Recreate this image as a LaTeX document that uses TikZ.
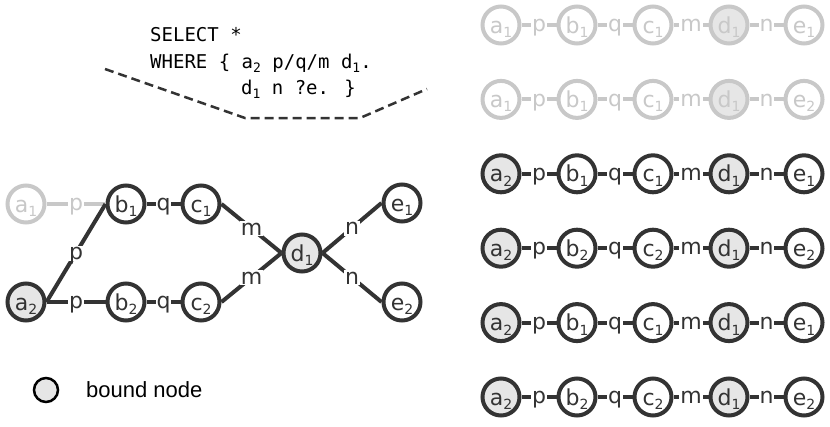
\documentclass[tikz,border=0pt]{standalone}
\usepackage{fontspec}
\setmainfont{DejaVu Sans}
\newfontfamily\codefont{DejaVu Sans Mono}
\newfontfamily\legendfont{Liberation Sans}
\definecolor{dk}{HTML}{333333}
\definecolor{lt}{HTML}{C8C8C8}
\definecolor{bfill}{HTML}{E6E6E6}
\newcommand\lsub[1]{\raisebox{-4.5pt}{\fontsize{14}{14}\selectfont #1}}
\newcommand\csub[1]{\raisebox{-4pt}{\fontsize{13}{13}\selectfont #1}}
\tikzset{
  nd-n/.style={circle, draw=dk, line width=4pt, minimum size=37pt, inner sep=0pt,
    fill=white, text=dk, font=\fontsize{22}{22}\selectfont, text height=16pt, text depth=0pt},
  nd-f/.style={nd-n, draw=lt, text=lt},
  bnd-n/.style={nd-n, fill=bfill},
  bnd-f/.style={nd-f, fill=bfill},
  ed-n/.style={draw=dk, line width=4pt},
  ed-f/.style={draw=lt, line width=4pt},
  lb-n/.style={fill=white, inner sep=0.8pt, text=dk, font=\fontsize{22}{22}\selectfont,
    text height=13.4pt, text depth=0pt},
  lb-f/.style={lb-n, text=lt},
  codeline/.style={anchor=base west, inner sep=0pt, text=black,
    font=\fontsize{19}{19}\selectfont\codefont},
  dashline/.style={draw=dk, line width=2.5pt, dash pattern=on 9pt off 5pt},
}
\begin{document}
\begin{tikzpicture}[x=1pt, y=-1pt]
\useasboundingbox (0,0) rectangle (830,426);

% query text
\node[codeline] (code1) at (150,41.7) {SELECT *};
\node[codeline] (code2) at (150,68.3) {WHERE \{ a\csub{2} p/q/m d\csub{1}.};
\node[codeline] (code3) at (241,94.8) {d\csub{1} n ?e. \}};
\coordinate (k1) at (105,69);
\coordinate (k2) at (245,118);
\coordinate (k3) at (360,118);
\coordinate (k4) at (427,89);
\draw[dashline] (k1) -- (k2) -- (k3) -- (k4);

% left graph
\node[nd-f]  (a1) at (26,204)  {a\lsub{1}};
\node[nd-n]  (b1) at (126,204) {b\lsub{1}};
\node[nd-n]  (c1) at (201,204) {c\lsub{1}};
\node[bnd-n] (d1) at (302,253) {d\lsub{1}};
\node[nd-n]  (e1) at (402,203) {e\lsub{1}};
\node[bnd-n] (a2) at (26,302)  {a\lsub{2}};
\node[nd-n]  (b2) at (126,302) {b\lsub{2}};
\node[nd-n]  (c2) at (201,302) {c\lsub{2}};
\node[nd-n]  (e2) at (402,302) {e\lsub{2}};

\draw[ed-f] (a1.east) -- node[lb-f] {p} (b1.west);
\draw[ed-n] (a2.east) -- node[lb-n] {p} (b1.west);
\draw[ed-n] (a2.east) -- node[lb-n] {p} (b2.west);
\draw[ed-n] (b1.east) -- node[lb-n] {q} (c1.west);
\draw[ed-n] (b2.east) -- node[lb-n] {q} (c2.west);
\draw[ed-n] (c1.east) -- node[lb-n] {m} (d1.west);
\draw[ed-n] (c2.east) -- node[lb-n] {m} (d1.west);
\draw[ed-n] (d1.east) -- node[lb-n] {n} (e1.west);
\draw[ed-n] (d1.east) -- node[lb-n] {n} (e2.west);

% legend
\node[circle, draw=black, line width=2.5pt, fill=bfill, minimum size=24pt, inner sep=0pt] (leg) at (46,390) {};
\node[anchor=base west, inner sep=0pt, font=\fontsize{22}{22}\selectfont\legendfont] (legtext) at (86,397) {bound node};

% right column of paths
\foreach \r/\y/\ns/\bs/\es/\ls/\A/\B/\E in {
  1/25/nd-f/bnd-f/ed-f/lb-f/1/1/1,
  2/99.4/nd-f/bnd-f/ed-f/lb-f/1/1/2,
  3/173.8/nd-n/bnd-n/ed-n/lb-n/2/1/1,
  4/248.2/nd-n/bnd-n/ed-n/lb-n/2/2/2,
  5/322.6/nd-n/bnd-n/ed-n/lb-n/2/1/1,
  6/397/nd-n/bnd-n/ed-n/lb-n/2/2/2}{
  \ifnum\A=2
    \node[\bs] (r\r a) at (501,\y) {a\lsub{\A}};
  \else
    \node[\ns] (r\r a) at (501,\y) {a\lsub{\A}};
  \fi
  \node[\ns] (r\r b) at (577,\y) {b\lsub{\B}};
  \node[\ns] (r\r c) at (653,\y) {c\lsub{\B}};
  \node[\bs] (r\r d) at (729,\y) {d\lsub{1}};
  \node[\ns] (r\r e) at (804,\y) {e\lsub{\E}};
  \draw[\es] (r\r a.east) -- node[\ls] {p} (r\r b.west);
  \draw[\es] (r\r b.east) -- node[\ls] {q} (r\r c.west);
  \draw[\es] (r\r c.east) -- node[\ls] {m} (r\r d.west);
  \draw[\es] (r\r d.east) -- node[\ls] {n} (r\r e.west);
}
\end{tikzpicture}
\end{document}
